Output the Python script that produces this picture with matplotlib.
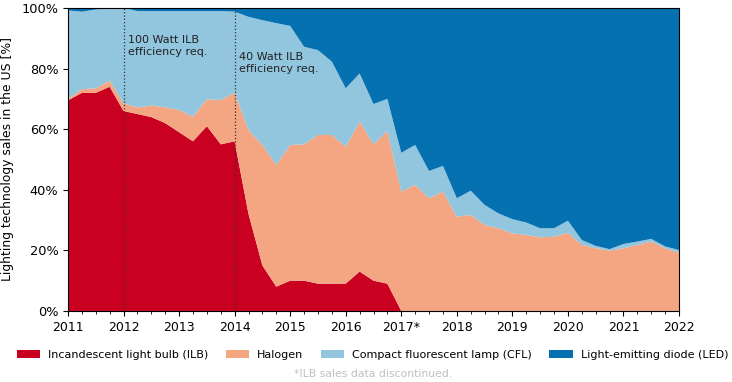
import numpy as np
import matplotlib.pyplot as plt
from matplotlib.ticker import FuncFormatter, MultipleLocator

# quarterly shares of US lighting sales [%]
quarters = np.arange(2011, 2022.01, 0.25)

ilb = [69.5, 72, 72, 74,
       66, 65, 64, 62,
       59, 56, 61, 55,
       56, 32, 15, 8,
       10, 10, 9, 9,
       9, 13, 10, 9,
       0, 0, 0, 0,
       0, 0, 0, 0,
       0, 0, 0, 0,
       0, 0, 0, 0,
       0, 0, 0, 0,
       0]
halogen = [0.5, 1.2, 1.5, 2,
           2.5, 2.2, 3.8, 5.2,
           7.3, 8.1, 8.9, 14.6,
           16, 27.7, 39.8, 40.2,
           44.8, 45, 49.1, 49.1,
           45.2, 49.5, 45, 50.4,
           39.4, 41.6, 37.2, 39.4,
           31.1, 31.7, 28.4, 27.3,
           25.6, 25.1, 24.3, 24.5,
           25.8, 21.8, 20.7, 19.9,
           20.7, 21.8, 22.9, 20.7,
           19.2]
cfl = [29.2, 25.6, 26, 24,
       31.5, 31.8, 31.2, 31.8,
       32.7, 34.9, 29.1, 29.4,
       26.8, 37.4, 41.2, 46.8,
       39.3, 32.2, 28, 24.2,
       19.3, 15.9, 13.3, 10.6,
       12.8, 13.2, 9, 8.5,
       6.1, 8, 6.6, 4.9,
       4.7, 4.1, 3, 2.8,
       4, 1.6, 0.8, 0.5,
       1.4, 1.1, 0.9, 0.6,
       0.9]
led = [100 - a - b - c for a, b, c in zip(ilb, halogen, cfl)]

labels = ['Incandescent light bulb (ILB)', 'Halogen',
          'Compact fluorescent lamp (CFL)', 'Light-emitting diode (LED)']
colors = ['#ca0020', '#f4a582', '#92c5de', '#0571b0']

year_ticks = list(range(2011, 2023))
year_labels = [str(y) if y != 2017 else '2017*' for y in year_ticks]

events = [2012, 2014]
event_text = ['100 Watt ILB\nefficiency req.', '40 Watt ILB\nefficiency req.']
event_y = [91, 85.5]

fig = plt.figure(figsize=(7.32, 3.82), dpi=100)
ax = fig.add_axes([0.0929, 0.186, 0.8347, 0.793])

ax.stackplot(quarters, ilb, halogen, cfl, led, colors=colors, labels=labels, linewidth=0)

for x, txt, y in zip(events, event_text, event_y):
    ax.axvline(x, color='#333333', linestyle=':', linewidth=0.9)
    ax.text(x + 0.08, y, txt, fontsize=8, va='top', ha='left', color='#222222')

ax.set_xlim(2011, 2022)
ax.set_ylim(0, 100)
ax.set_xticks(year_ticks)
ax.set_xticklabels(year_labels, fontsize=9)
ax.xaxis.set_minor_locator(MultipleLocator(0.25))
ax.set_yticks(range(0, 101, 20))
ax.yaxis.set_major_formatter(FuncFormatter(lambda v, p: f'{v:.0f}%'))
ax.tick_params(axis='y', labelsize=9.3)
ax.set_ylabel('Lighting technology sales in the US [%]', fontsize=8.9, labelpad=5)

fig.legend(loc='center', bbox_to_anchor=(0.509, 0.071), ncol=4, frameon=False,
           fontsize=8, handlelength=2.1, handleheight=0.75, handletextpad=0.75,
           columnspacing=1.55)
fig.text(0.51, 0.021, '*ILB sales data discontinued.', ha='center', va='center',
         fontsize=7.8, color='#c0c0c0')

fig.savefig('out.png', dpi=100)
